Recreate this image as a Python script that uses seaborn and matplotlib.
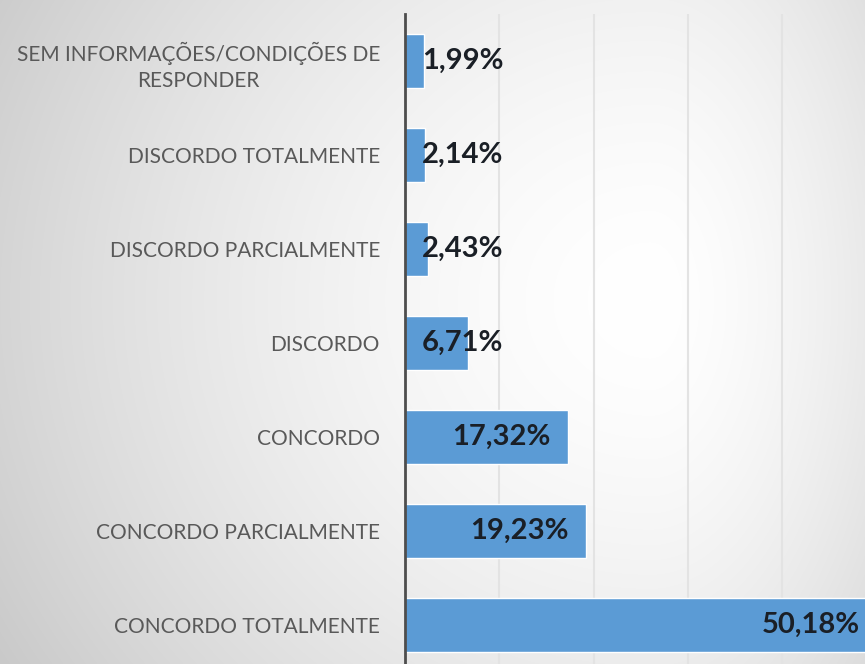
import numpy as np
import pandas as pd
import seaborn as sns
import matplotlib.pyplot as plt

categories = [
    "SEM INFORMAÇÕES/CONDIÇÕES DE\nRESPONDER",
    "DISCORDO TOTALMENTE",
    "DISCORDO PARCIALMENTE",
    "DISCORDO",
    "CONCORDO",
    "CONCORDO PARCIALMENTE",
    "CONCORDO TOTALMENTE",
]
values = [1.99, 2.14, 2.43, 6.71, 17.32, 19.23, 50.18]
value_labels = ["1,99%", "2,14%", "2,43%", "6,71%", "17,32%", "19,23%", "50,18%"]

df = pd.DataFrame({"categoria": categories, "pct": values})

sns.set_style("white")
plt.rcParams["font.family"] = ["Lato", "DejaVu Sans"]

W, H = 865, 664
fig = plt.figure(figsize=(W / 100, H / 100), dpi=100)

# soft grey-to-white background like the original slide
bg = fig.add_axes([0, 0, 1, 1], zorder=-5)
xx, yy = np.meshgrid(np.arange(W), np.arange(H))
cx, cy = 650, 300
dxn = np.where(xx < cx, (cx - xx) / 650.0, (xx - cx) / 330.0)
dyn = (yy - cy) / 600.0
d = np.clip(np.sqrt(dxn ** 2 + dyn ** 2), 0, 1.3)
gray = (255 - 42 * d ** 1.6) / 255.0
bg.imshow(np.dstack([gray, gray, gray]), aspect="auto", extent=[0, 1, 0, 1])
bg.axis("off")

# axes: 10 % ~ 94 px, one category ~ 94 px; right / bottom run past the figure
xmax = 55
ax = fig.add_axes([405 / W, (H - 14 - 658) / H, 94.3 * xmax / 10 / W, 658 / H])
ax.patch.set_alpha(0)

sns.barplot(data=df, x="pct", y="categoria", color="#5B9BD5", saturation=1,
            width=0.58, orient="h", ax=ax, zorder=3)

ax.set_xlim(0, xmax)
ax.set_ylim(len(categories) - 0.5, -0.5)
ax.set_xticks([10, 20, 30, 40, 50])
ax.set_xticklabels([])
ax.grid(axis="x", color="#e3e3e3", linewidth=1.5, zorder=0)
ax.set_xlabel("")
ax.set_ylabel("")
for s in ["top", "right", "bottom"]:
    ax.spines[s].set_visible(False)
ax.spines["left"].set_color("#4d4d4d")
ax.spines["left"].set_linewidth(2)
ax.spines["left"].set_zorder(5)
ax.tick_params(axis="both", length=0)
ax.tick_params(axis="y", pad=18, labelsize=15, labelcolor="#595959")
for lab in ax.get_yticklabels():
    lab.set_multialignment("center")
    lab.set_linespacing(1.4)

for i, (v, txt) in enumerate(zip(values, value_labels)):
    if v > 10:
        ax.annotate(txt, (v, i), xytext=(-13, 0), textcoords="offset points",
                    ha="right", va="center", fontsize=21, fontweight="bold",
                    color="#1a1f26", zorder=6)
    else:
        ax.annotate(txt, (0, i), xytext=(12, 0), textcoords="offset points",
                    ha="left", va="center", fontsize=21, fontweight="bold",
                    color="#1a1f26", zorder=6)

fig.savefig("out.png", dpi=100)
